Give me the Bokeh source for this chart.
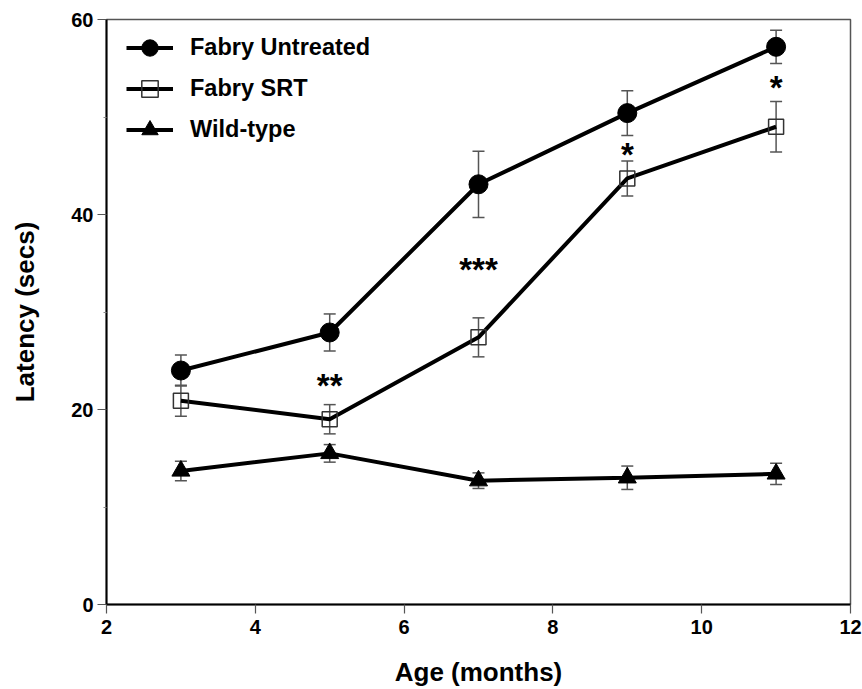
from bokeh.plotting import figure
from bokeh.models import ColumnDataSource, Whisker, TeeHead, Legend, LegendItem, FixedTicker, Range1d
from bokeh.core.properties import value
from bokeh.embed import file_html
from bokeh.resources import INLINE

# ---- data ----
ages = [3, 5, 7, 9, 11]
untreated = [24.0, 27.9, 43.1, 50.4, 57.2]
untreated_err = [1.6, 1.9, 3.4, 2.3, 1.7]
srt = [20.9, 19.0, 27.4, 43.7, 49.0]
srt_err = [1.6, 1.5, 2.0, 1.8, 2.6]
wildtype = [13.7, 15.5, 12.7, 13.0, 13.4]
wildtype_err = [1.0, 0.9, 0.8, 1.2, 1.1]
sig_x = [5, 7, 9, 11]
sig_y = [22.9, 34.8, 46.6, 53.4]
sig_labels = ["**", "***", "*", "*"]
x_ticks = [2, 4, 6, 8, 10, 12]
y_ticks = [0, 20, 40, 60]

FONT = "Liberation Sans"

p = figure(width=862, height=689, output_backend="svg", toolbar_location=None,
           x_range=Range1d(2, 12), y_range=Range1d(0, 60))
p.min_border_left = 106
p.min_border_right = 12
p.min_border_top = 19
p.min_border_bottom = 85
p.xgrid.visible = False
p.ygrid.visible = False
p.outline_line_color = "#555555"
p.outline_line_width = 1.5
p.background_fill_color = "white"
p.border_fill_color = "white"

# axes
for ax in (p.xaxis[0], p.yaxis[0]):
    ax.axis_line_color = "black"
    ax.axis_line_width = 2
    ax.major_tick_line_color = "#555555"
    ax.major_tick_line_width = 1.2
    ax.major_tick_out = 9
    ax.major_tick_in = 0
    ax.major_label_text_font = FONT
    ax.major_label_text_font_style = "bold"
    ax.major_label_text_font_size = "20px"
    ax.major_label_text_color = "black"
    ax.axis_label_text_font = FONT
    ax.axis_label_text_font_style = "bold"
    ax.axis_label_text_font_size = "26px"
    ax.axis_label_text_color = "black"

p.xaxis.ticker = FixedTicker(ticks=x_ticks)
p.yaxis.ticker = FixedTicker(ticks=y_ticks, minor_ticks=[10, 30, 50])
p.xaxis.minor_tick_line_color = None
p.yaxis.minor_tick_line_color = "#888888"
p.yaxis.minor_tick_out = 3
p.yaxis.minor_tick_in = 0
p.xaxis.axis_label = "Age (months)"
p.yaxis.axis_label = "Latency (secs)"
p.xaxis.major_label_standoff = 6
p.yaxis.major_label_standoff = 4
p.xaxis.axis_label_standoff = 20
p.yaxis.axis_label_standoff = 28

series = [
    ("Fabry Untreated", untreated, untreated_err, "circle", 19, "black", 1.0),
    ("Fabry SRT", srt, srt_err, "square", 15, "#333333", 0.0),
    ("Wild-type", wildtype, wildtype_err, "triangle", 18, "black", 1.0),
]

items = []
for name, ys, errs, marker, size, lc, fa in series:
    src = ColumnDataSource(dict(x=ages, y=ys,
                                upper=[a + b for a, b in zip(ys, errs)],
                                lower=[a - b for a, b in zip(ys, errs)]))
    w = Whisker(base="x", upper="upper", lower="lower", source=src,
                line_color="#555555", line_width=1.5,
                upper_head=TeeHead(size=12, line_color="#555555", line_width=1.5),
                lower_head=TeeHead(size=12, line_color="#555555", line_width=1.5))
    p.add_layout(w)
    r1 = p.line("x", "y", source=src, line_color="black", line_width=4)
    r2 = p.scatter("x", "y", source=src, marker=marker, size=size,
                   fill_color="black", fill_alpha=fa,
                   line_color=lc, line_width=1.5 if fa == 0 else 1)
    items.append(LegendItem(label=name, renderers=[r1, r2]))

p.text(x=sig_x, y=sig_y, text=sig_labels, text_font=value(FONT),
       text_font_style="bold", text_font_size="33px", text_align="center",
       text_baseline="middle", y_offset=4, text_color="black")

legend = Legend(items=items, location=(20, 454))
legend.margin = 0
legend.padding = 0
legend.spacing = 0
legend.glyph_width = 47
legend.glyph_height = 41
legend.label_height = 20
legend.label_standoff = 17
legend.label_text_font = FONT
legend.label_text_font_style = "bold"
legend.label_text_font_size = "23.5px"
legend.label_text_color = "black"
legend.border_line_color = None
legend.background_fill_alpha = 0
p.add_layout(legend)

open("out.html", "w").write(file_html(p, INLINE))
